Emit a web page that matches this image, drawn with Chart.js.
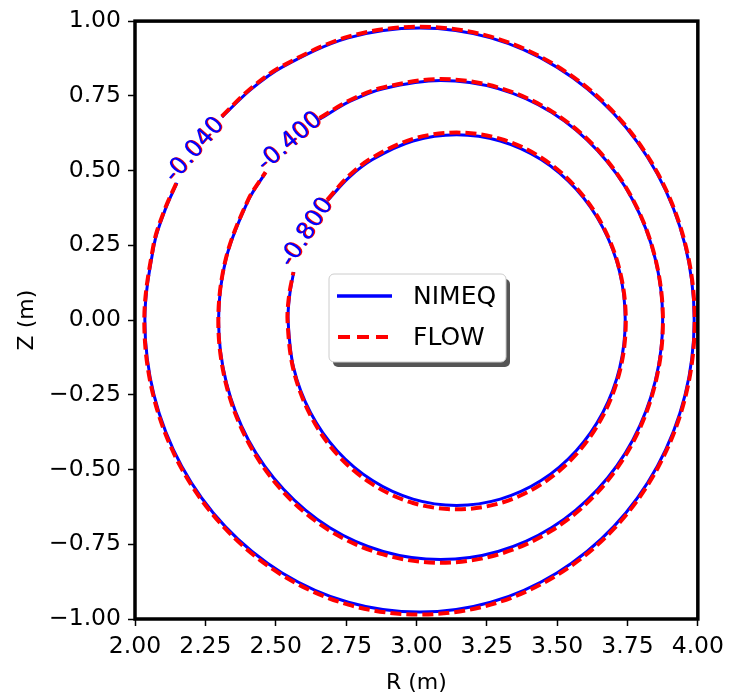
<!DOCTYPE html>
<html>
<head>
<meta charset="utf-8">
<script src="https://cdn.jsdelivr.net/npm/chart.js@4"></script>
<style>
  body { margin: 0; background: #fff; }
  #wrap { width: 731px; height: 700px; }
</style>
</head>
<body>
<div id="wrap"><canvas id="myChart"></canvas></div>
<script>
// flux surfaces, [R, Z] points (each one open at its label gap)
const nimeqOuter = [[2.309,0.679],[2.410,0.770],[2.523,0.846],[2.758,0.944],[3.011,0.977],[3.264,0.944],[3.499,0.846],[3.701,0.691],[3.856,0.489],[3.954,0.253],[3.987,0.000],[3.954,-0.253],[3.856,-0.489],[3.701,-0.691],[3.499,-0.846],[3.264,-0.944],[3.011,-0.977],[2.758,-0.944],[2.523,-0.846],[2.321,-0.691],[2.166,-0.489],[2.068,-0.253],[2.035,0.000],[2.068,0.253],[2.106,0.366],[2.149,0.459]];
const nimeqMiddle = [[2.656,0.672],[2.765,0.732],[2.882,0.774],[3.086,0.801],[3.290,0.774],[3.481,0.694],[3.644,0.566],[3.769,0.401],[3.848,0.207],[3.875,0.000],[3.848,-0.207],[3.769,-0.401],[3.644,-0.566],[3.481,-0.694],[3.290,-0.774],[3.086,-0.801],[2.882,-0.774],[2.691,-0.694],[2.528,-0.566],[2.403,-0.401],[2.324,-0.207],[2.297,0.000],[2.324,0.207],[2.403,0.401],[2.464,0.493]];
const nimeqInner = [[2.684,0.399],[2.758,0.475],[2.844,0.537],[2.988,0.599],[3.143,0.620],[3.298,0.599],[3.443,0.537],[3.567,0.438],[3.662,0.310],[3.722,0.161],[3.742,0.000],[3.722,-0.161],[3.662,-0.310],[3.567,-0.438],[3.443,-0.537],[3.298,-0.599],[3.143,-0.620],[2.988,-0.599],[2.844,-0.537],[2.719,-0.438],[2.624,-0.310],[2.564,-0.161],[2.544,0.000],[2.550,0.086],[2.564,0.161]];

const flowOuter = [[2.308,0.681],[2.409,0.773],[2.522,0.849],[2.758,0.948],[3.011,0.981],[3.264,0.948],[3.500,0.849],[3.703,0.693],[3.858,0.490],[3.956,0.252],[3.989,-0.002],[3.956,-0.256],[3.858,-0.494],[3.703,-0.697],[3.500,-0.853],[3.264,-0.952],[3.011,-0.985],[2.758,-0.952],[2.522,-0.853],[2.320,-0.697],[2.164,-0.494],[2.066,-0.256],[2.033,-0.002],[2.066,0.252],[2.104,0.366],[2.148,0.460]];
const flowMiddle = [[2.656,0.676],[2.765,0.736],[2.882,0.778],[3.086,0.806],[3.291,0.778],[3.481,0.698],[3.645,0.569],[3.770,0.402],[3.849,0.206],[3.876,-0.003],[3.849,-0.212],[3.770,-0.408],[3.645,-0.575],[3.481,-0.704],[3.291,-0.784],[3.086,-0.812],[2.882,-0.784],[2.691,-0.704],[2.527,-0.575],[2.402,-0.408],[2.323,-0.212],[2.296,-0.003],[2.323,0.206],[2.402,0.402],[2.464,0.495]];
const flowInner = [[2.683,0.402],[2.757,0.480],[2.843,0.543],[2.988,0.606],[3.143,0.627],[3.299,0.606],[3.444,0.543],[3.568,0.443],[3.664,0.312],[3.724,0.160],[3.744,-0.003],[3.724,-0.166],[3.664,-0.318],[3.568,-0.449],[3.444,-0.549],[3.299,-0.612],[3.143,-0.633],[2.988,-0.612],[2.843,-0.549],[2.718,-0.449],[2.623,-0.318],[2.563,-0.166],[2.542,-0.003],[2.548,0.085],[2.563,0.160]];

// contour labels (text, R, Z, angle in degrees)
const labelText = ['-0.040', '-0.400', '-0.800'];
const labelR = [2.212, 2.550, 2.611];
const labelZ = [0.569, 0.596, 0.293];
const labelAngle = [-49, -41, -57];

const seriesNames = ['NIMEQ', 'FLOW'];

const FONT = 'DejaVu Sans';

function pts(arr) {
  return arr.map(p => ({ x: p[0], y: p[1] }));
}

function flowSet(arr) {
  return { data: pts(arr), showLine: true, pointRadius: 0, borderColor: '#ff0000', borderWidth: 4, borderDash: [11, 5], tension: 0.34, fill: false };
}
function nimeqSet(arr) {
  return { data: pts(arr), showLine: true, pointRadius: 0, borderColor: '#0000ff', borderWidth: 3, tension: 0.34, fill: false };
}

const extras = {
  id: 'extras',
  afterDatasetsDraw(chart) {
    const ctx = chart.ctx;
    const xs = chart.scales.x, ys = chart.scales.y;
    ctx.save();
    ctx.font = '24px "' + FONT + '"';
    ctx.textAlign = 'center';
    ctx.textBaseline = 'middle';
    for (let i = 0; i < labelText.length; i++) {
      const px = xs.getPixelForValue(labelR[i]);
      const py = ys.getPixelForValue(labelZ[i]);
      ctx.save();
      ctx.translate(px, py);
      ctx.rotate(labelAngle[i] * Math.PI / 180);
      ctx.fillStyle = '#ff0000';
      ctx.fillText(labelText[i], 0.8, 0.8);
      ctx.fillStyle = '#0000ff';
      ctx.fillText(labelText[i], 0, 0);
      ctx.restore();
    }
    ctx.restore();
  },
  afterDraw(chart) {
    const ctx = chart.ctx;
    const a = chart.chartArea;
    ctx.save();
    // frame
    ctx.strokeStyle = '#000';
    ctx.lineWidth = 3.5;
    ctx.strokeRect(a.left, a.top, a.right - a.left, a.bottom - a.top);

    // legend
    const bx = 329, by = 274, bw = 177, bh = 88, r = 5;
    function rr(x, y) {
      ctx.beginPath();
      ctx.moveTo(x + r, y);
      ctx.arcTo(x + bw, y, x + bw, y + bh, r);
      ctx.arcTo(x + bw, y + bh, x, y + bh, r);
      ctx.arcTo(x, y + bh, x, y, r);
      ctx.arcTo(x, y, x + bw, y, r);
      ctx.closePath();
    }
    rr(bx + 4, by + 5);
    ctx.fillStyle = '#555';
    ctx.fill();
    rr(bx, by);
    ctx.fillStyle = '#fff';
    ctx.fill();
    ctx.strokeStyle = '#cccccc';
    ctx.lineWidth = 1;
    ctx.stroke();

    ctx.lineWidth = 3.5;
    ctx.strokeStyle = '#0000ff';
    ctx.beginPath(); ctx.moveTo(337, 296); ctx.lineTo(392, 296); ctx.stroke();
    ctx.strokeStyle = '#ff0000';
    ctx.lineWidth = 4;
    ctx.setLineDash([12, 7]);
    ctx.beginPath(); ctx.moveTo(338, 337); ctx.lineTo(392, 337); ctx.stroke();
    ctx.setLineDash([]);

    ctx.fillStyle = '#000';
    ctx.font = '25px "' + FONT + '"';
    ctx.textAlign = 'left';
    ctx.textBaseline = 'middle';
    ctx.fillText(seriesNames[0], 413, 297);
    ctx.fillText(seriesNames[1], 413, 338);
    ctx.restore();
  }
};

function fmt(v) {
  return v.toFixed(2).replace('-', '\u2212');
}

new Chart('myChart', {
  type: 'scatter',
  data: {
    datasets: [
      flowSet(flowOuter), flowSet(flowMiddle), flowSet(flowInner),
      nimeqSet(nimeqOuter), nimeqSet(nimeqMiddle), nimeqSet(nimeqInner)
    ]
  },
  options: {
    responsive: true,
    maintainAspectRatio: false,
    animation: false,
    layout: { padding: { left: 0, right: 30, top: 16, bottom: 0 } },
    plugins: { legend: { display: false }, tooltip: { enabled: false } },
    scales: {
      x: {
        type: 'linear',
        min: 2, max: 4,
        afterFit(s) { s.height = 81; },
        ticks: { stepSize: 0.25, color: '#000', font: { family: FONT, size: 23.5 }, padding: 7, callback: v => fmt(v), maxRotation: 0 },
        grid: { drawOnChartArea: false, drawTicks: true, tickLength: 7, tickColor: '#000', tickWidth: 1.5 },
        border: { display: false },
        title: { display: true, text: 'R (m)', color: '#000', font: { family: FONT, size: 22 }, padding: { top: 0, bottom: 4 } }
      },
      y: {
        type: 'linear',
        min: -1, max: 1,
        afterFit(s) { s.width = 135; },
        ticks: { stepSize: 0.25, color: '#000', font: { family: FONT, size: 23.5 }, padding: 7, callback: v => fmt(v) },
        grid: { drawOnChartArea: false, drawTicks: true, tickLength: 7, tickColor: '#000', tickWidth: 1.5 },
        border: { display: false },
        title: { display: true, text: 'Z (m)', color: '#000', font: { family: FONT, size: 22 }, padding: { top: 14, bottom: 0 } }
      }
    }
  },
  plugins: [extras]
});
</script>
</body>
</html>
